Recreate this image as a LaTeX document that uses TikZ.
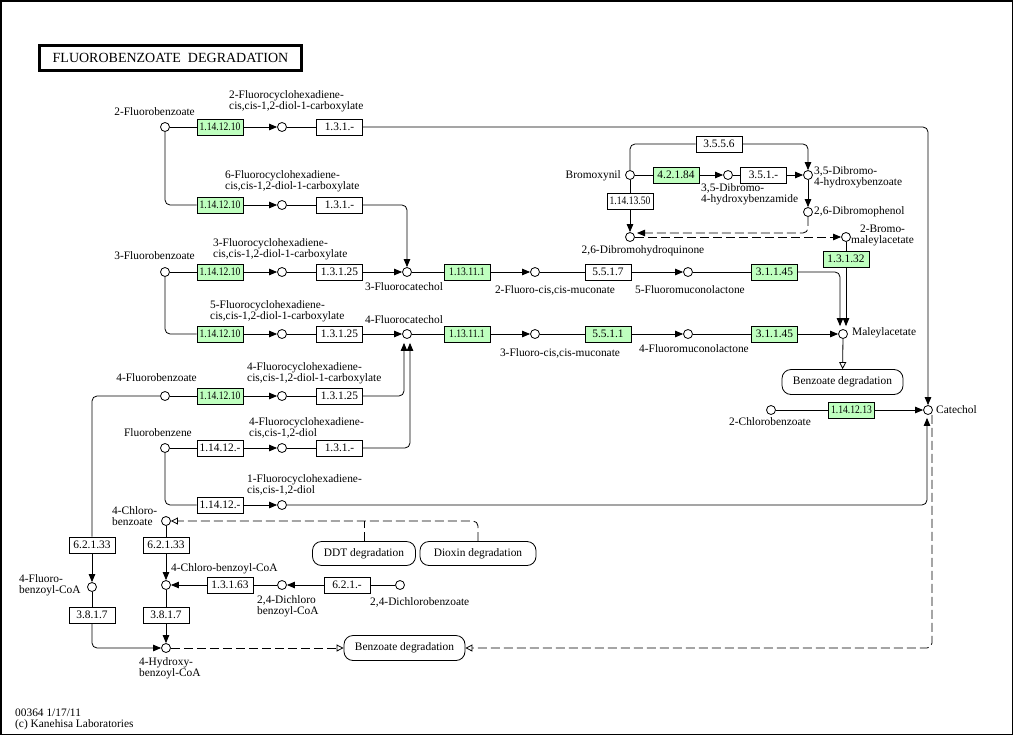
\documentclass[tikz,border=0pt]{standalone}
\usepackage{fontspec}
\usepackage{graphicx}
\setmainfont{Liberation Serif}
\newfontfamily\condfont[FakeStretch=0.84]{Liberation Serif}
\usetikzlibrary{arrows.meta,calc}
\definecolor{kgreen}{RGB}{191,255,191}
\newcommand\labfont{\fontsize{11.4}{11}\selectfont}
\newcommand\titfont{\fontsize{14}{14}\selectfont}
\newcommand\cnd[1]{{\condfont #1}}
\begin{document}
\begin{tikzpicture}[x=1pt,y=-1pt,
  cpd/.style={circle,draw,fill=white,minimum size=9pt,inner sep=0pt,line width=0.8pt},
  ec/.style={draw,fill=white,minimum width=46pt,minimum height=16pt,inner sep=0pt,line width=0.8pt,font=\labfont},
  ecg/.style={ec,fill=kgreen},
  lbl/.style={inner sep=0pt,font=\labfont,align=left},
  mapbox/.style={draw,rounded corners=9pt,minimum height=25pt,inner sep=0pt,line width=0.8pt,font=\labfont},
  conn/.style={line width=0.8pt},
  arr/.style={conn,-{Triangle[length=8pt,width=6.5pt]}},
  oarr/.style={conn,-{Triangle[open,length=7pt,width=7pt,fill=white]}},
  dsh/.style={dash pattern=on 9pt off 4pt},
  rc/.style={rounded corners=5pt}]
\useasboundingbox (0,0) rectangle (1014,736);
\draw[line width=1.5pt] (0.75,0.75) rectangle (1012.5,734.5);

% title
\node[draw,line width=2.5pt,minimum width=262pt,minimum height=25pt,inner sep=0pt,font=\titfont] (title) at (170.5,58) {FLUOROBENZOATE\ \ DEGRADATION};

% compounds
\node[cpd] (f2b) at (165,127) {};
\node[cpd] (c2fc) at (282,127) {};
\node[cpd] (c6fc) at (282,205) {};
\node[cpd] (f3b) at (165,272) {};
\node[cpd] (c3fc) at (282,272) {};
\node[cpd] (fc3) at (407,272) {};
\node[cpd] (m2f) at (535,272) {};
\node[cpd] (l5f) at (688,272) {};
\node[cpd] (c5fc) at (282,334) {};
\node[cpd] (fc4) at (407,334) {};
\node[cpd] (m3f) at (535,334) {};
\node[cpd] (l4f) at (688,334) {};
\node[cpd] (mal) at (843,334) {};
\node[cpd] (f4b) at (165,396) {};
\node[cpd] (c4fc) at (282,396) {};
\node[cpd] (fbz) at (165,448) {};
\node[cpd] (c4fd) at (282,448) {};
\node[cpd] (c1fd) at (282,505) {};
\node[cpd] (cat) at (928,410) {};
\node[cpd] (cb2) at (771,410) {};
\node[cpd] (cb4) at (166,521) {};
\node[cpd] (fbc) at (92,587) {};
\node[cpd] (cbc) at (166,585) {};
\node[cpd] (dcc) at (282,585) {};
\node[cpd] (dcb) at (400,585) {};
\node[cpd] (hbc) at (166,648) {};
\node[cpd] (brx) at (630,175) {};
\node[cpd] (dbam) at (728,175) {};
\node[cpd] (dbhb) at (808,175) {};
\node[cpd] (dbp) at (808,212) {};
\node[cpd] (dbhq) at (630,237) {};
\node[cpd] (bma) at (846,237) {};

% enzymes
\node[ecg] (e1) at (220,127) {\cnd{1.14.12.10}};
\node[ec] (e2) at (339.5,127) {1.3.1.-};
\node[ecg] (e3) at (220,205) {\cnd{1.14.12.10}};
\node[ec] (e4) at (339.5,205) {1.3.1.-};
\node[ecg] (e5) at (220,272) {\cnd{1.14.12.10}};
\node[ec] (e6) at (339.5,272) {1.3.1.25};
\node[ecg] (e7) at (467,272) {\cnd{1.13.11.1}};
\node[ec] (e8) at (608,272) {5.5.1.7};
\node[ecg] (e9) at (774.5,272) {3.1.1.45};
\node[ecg] (e10) at (220,334) {\cnd{1.14.12.10}};
\node[ec] (e11) at (339.5,334) {1.3.1.25};
\node[ecg] (e12) at (467,334) {\cnd{1.13.11.1}};
\node[ecg] (e13) at (608,334) {5.5.1.1};
\node[ecg] (e14) at (774.5,334) {3.1.1.45};
\node[ecg] (e15) at (220,396) {\cnd{1.14.12.10}};
\node[ec] (e16) at (339.5,396) {1.3.1.25};
\node[ec] (e17) at (220,448) {1.14.12.-};
\node[ec] (e18) at (339.5,448) {1.3.1.-};
\node[ec] (e19) at (220,505) {1.14.12.-};
\node[ecg] (e20) at (851.5,410) {\cnd{1.14.12.13}};
\node[ec] (e21) at (92,545) {6.2.1.33};
\node[ec] (e22) at (92,615) {3.8.1.7};
\node[ec] (e23) at (166,545) {6.2.1.33};
\node[ec] (e24) at (166,615) {3.8.1.7};
\node[ec] (e25) at (230,585) {1.3.1.63};
\node[ec] (e26) at (347,585) {6.2.1.-};
\node[ecg] (e27) at (676,175) {4.2.1.84};
\node[ec] (e28) at (763.5,175) {3.5.1.-};
\node[ec] (e29) at (719,144) {3.5.5.6};
\node[ec] (e30) at (630,201) {\cnd{1.14.13.50}};
\node[ecg] (e31) at (846,259) {1.3.1.32};

% map boxes
\node[mapbox,minimum width=121pt] (bd1) at (842.5,382) {Benzoate degradation};
\node[mapbox,minimum width=103pt,minimum height=24pt] (ddt) at (364,553.5) {DDT degradation};
\node[mapbox,minimum width=116pt,minimum height=24pt] (diox) at (478,553.5) {Dioxin degradation};
\node[mapbox,minimum width=121pt] (bd2) at (404.5,648) {Benzoate degradation};

% labels
\node[lbl,anchor=east] (t1) at (195,112) {2-Fluorobenzoate};
\node[lbl,anchor=west] (t2) at (229,101) {2-Fluorocyclohexadiene-\\cis,cis-1,2-diol-1-carboxylate};
\node[lbl,anchor=west] (t3) at (225,181) {6-Fluorocyclohexadiene-\\cis,cis-1,2-diol-1-carboxylate};
\node[lbl,anchor=east] (t4) at (195,256) {3-Fluorobenzoate};
\node[lbl,anchor=west] (t5) at (213,249) {3-Fluorocyclohexadiene-\\cis,cis-1,2-diol-1-carboxylate};
\node[lbl] (t6) at (404,287) {3-Fluorocatechol};
\node[lbl,anchor=west] (t7) at (210,311) {5-Fluorocyclohexadiene-\\cis,cis-1,2-diol-1-carboxylate};
\node[lbl] (t8) at (404,320) {4-Fluorocatechol};
\node[lbl] (t9) at (555,290) {2-Fluoro-cis,cis-muconate};
\node[lbl] (t10) at (690,290) {5-Fluoromuconolactone};
\node[lbl] (t11) at (560,353) {3-Fluoro-cis,cis-muconate};
\node[lbl] (t12) at (694,349) {4-Fluoromuconolactone};
\node[lbl,anchor=west] (t13) at (852,333) {Maleylacetate};
\node[lbl,anchor=east] (t14) at (197,378) {4-Fluorobenzoate};
\node[lbl,anchor=west] (t15) at (247,373) {4-Fluorocyclohexadiene-\\cis,cis-1,2-diol-1-carboxylate};
\node[lbl,anchor=east] (t16) at (192,433) {Fluorobenzene};
\node[lbl,anchor=west] (t17) at (249,428) {4-Fluorocyclohexadiene-\\cis,cis-1,2-diol};
\node[lbl,anchor=west] (t18) at (247,485) {1-Fluorocyclohexadiene-\\cis,cis-1,2-diol};
\node[lbl,anchor=west] (t19) at (112,516) {4-Chloro-\\benzoate};
\node[lbl,anchor=west] (t20) at (19,585) {4-Fluoro-\\benzoyl-CoA};
\node[lbl,anchor=west] (t21) at (171,569) {4-Chloro-benzoyl-CoA};
\node[lbl,anchor=west] (t22) at (257,606) {2,4-Dichloro\\benzoyl-CoA};
\node[lbl,anchor=west] (t23) at (370,602) {2,4-Dichlorobenzoate};
\node[lbl,anchor=west] (t24) at (139,668) {4-Hydroxy-\\benzoyl-CoA};
\node[lbl] (t25) at (770,422) {2-Chlorobenzoate};
\node[lbl,anchor=west] (t26) at (936,410) {Catechol};
\node[lbl,anchor=east] (t27) at (621,176) {Bromoxynil};
\node[lbl,anchor=west] (t28) at (701,194) {3,5-Dibromo-\\4-hydroxybenzamide};
\node[lbl,anchor=west] (t29) at (814,177) {3,5-Dibromo-\\4-hydroxybenzoate};
\node[lbl,anchor=west] (t30) at (814,212) {2,6-Dibromophenol};
\node[lbl,anchor=west,align=center] (t31) at (851,235) {2-Bromo-\\maleylacetate};
\node[lbl] (t32) at (643,251) {2,6-Dibromohydroquinone};
\node[lbl,anchor=north west] (foot) at (15,709) {00364 1/17/11\\(c) Kanehisa Laboratories};

% free ends
\coordinate (malL) at ($(mal.north)+(-3,-3)$);
\coordinate (malR) at ($(mal.north)+(3,-3)$);
\coordinate (fc4L) at ($(fc4.south)+(-3,4)$);
\coordinate (fc4R) at ($(fc4.south)+(3,4)$);
\coordinate (catB) at ($(cat.south)+(-1,3)$);
\coordinate (catD) at ($(cat.south)+(4,0)$);
\coordinate (hqin) at (637,233);

% row 1
\draw[conn] (f2b) -- (e1);
\draw[arr] (e1) -- (c2fc);
\draw[conn] (c2fc) -- (e2);
\draw[arr,rc] (e2) -- (cat |- e2) -- (cat);
% row 2
\draw[conn,rc] (f2b) |- (e3);
\draw[arr] (e3) -- (c6fc);
\draw[conn] (c6fc) -- (e4);
\draw[arr,rc] (e4) -| (fc3);
% row 3
\draw[conn] (f3b) -- (e5);
\draw[arr] (e5) -- (c3fc);
\draw[conn] (c3fc) -- (e6);
\draw[arr] (e6) -- (fc3);
\draw[conn] (fc3) -- (e7);
\draw[arr] (e7) -- (m2f);
\draw[conn] (m2f) -- (e8);
\draw[arr] (e8) -- (l5f);
\draw[conn] (l5f) -- (e9);
\draw[arr,rc] (e9) -| (malL);
% row 4
\draw[conn,rc] (f3b) |- (e10);
\draw[arr] (e10) -- (c5fc);
\draw[conn] (c5fc) -- (e11);
\draw[arr] (e11) -- (fc4);
\draw[conn] (fc4) -- (e12);
\draw[arr] (e12) -- (m3f);
\draw[conn] (m3f) -- (e13);
\draw[arr] (e13) -- (l4f);
\draw[conn] (l4f) -- (e14);
\draw[arr] (e14) -- (mal);
\draw[conn] (bma) -- (e31);
\draw[arr] (e31) -- (malR);
\draw[oarr] (mal) -- (bd1);
% row 5
\draw[conn] (f4b) -- (e15);
\draw[arr] (e15) -- (c4fc);
\draw[conn] (c4fc) -- (e16);
\draw[arr,rc] (e16) -| (fc4L);
\draw[conn,rc] (f4b) -| (e21);
\draw[arr] (e21) -- (fbc);
\draw[conn] (fbc) -- (e22);
\draw[arr,rc] (e22) |- (hbc);
% fluorobenzene
\draw[conn] (fbz) -- (e17);
\draw[arr] (e17) -- (c4fd);
\draw[conn] (c4fd) -- (e18);
\draw[arr,rc] (e18) -| (fc4R);
\draw[conn,rc] (fbz) |- (e19);
\draw[arr] (e19) -- (c1fd);
\draw[arr,rc] (c1fd) -| (catB);
% 2-chlorobenzoate
\draw[conn] (cb2) -- (e20);
\draw[arr] (e20) -- (cat);
% chlorobenzoate
\draw[conn] (cb4) -- (e23);
\draw[arr] (e23) -- (cbc);
\draw[conn] (cbc) -- (e24);
\draw[arr] (e24) -- (hbc);
\draw[conn] (dcb) -- (e26);
\draw[arr] (e26) -- (dcc);
\draw[conn] (dcc) -- (e25);
\draw[arr] (e25) -- (cbc);
\draw[oarr,dsh,rc] (diox) |- (cb4);
\draw[conn,dsh,rc] (ddt) -- (ddt |- cb4);
\draw[oarr,dsh] (hbc) -- (bd2);
\draw[oarr,dsh,rc] (catD) |- (bd2);
% bromoxynil
\draw[conn] (brx) -- (e27);
\draw[arr] (e27) -- (dbam);
\draw[conn] (dbam) -- (e28);
\draw[arr] (e28) -- (dbhb);
\draw[conn,rc] (brx) |- (e29);
\draw[arr,rc] (e29) -| (dbhb);
\draw[conn] (brx) -- (e30);
\draw[arr] (e30) -- (dbhq);
\draw[arr] (dbhb) -- (dbp);
\draw[arr,dsh,rc] (dbp) |- (hqin);
\draw[arr,dsh] (dbhq) -- (bma);
\end{tikzpicture}
\end{document}
